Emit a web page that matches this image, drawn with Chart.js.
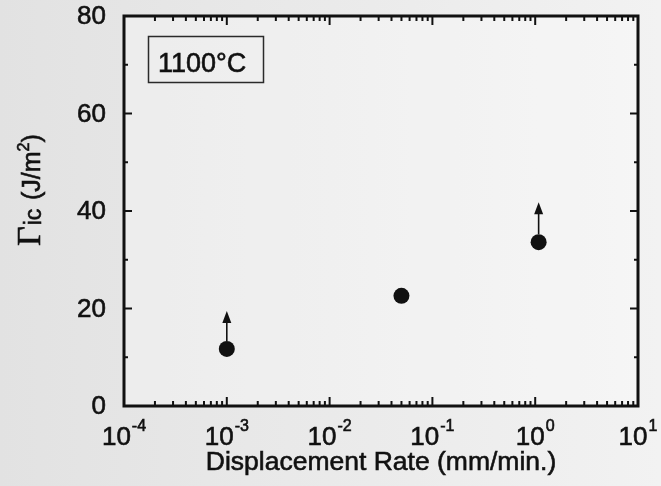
<!DOCTYPE html>
<html>
<head>
<meta charset="utf-8">
<script src="https://cdn.jsdelivr.net/npm/chart.js@4.4.1/dist/chart.umd.min.js"></script>
<style>
  html, body { margin: 0; padding: 0; background: #e8e8e8; }
  #wrap { width: 661px; height: 486px; }
</style>
</head>
<body>
<div id="wrap"><canvas id="chart" width="661" height="486"></canvas></div>
<script>
// values
const rates = [0.001, 0.05, 1.08];        // displacement rate, mm/min
const gammaIc = [11.7, 22.6, 33.6];       // J/m^2
const arrowTips = [19.5, null, 41.8];     // lower-bound arrows (J/m^2), null = no arrow
const xDecades = [-4, -3, -2, -1, 0, 1];
const yMajorTicks = [0, 20, 40, 60, 80];
const yMinorTicks = [10, 30, 50, 70];
const tempLabel = '1100°C';
const xTitle = 'Displacement Rate (mm/min.)';

const SANS = '"Liberation Sans", Arial, Helvetica, sans-serif';
const SERIF = '"Liberation Serif", "Times New Roman", serif';
const INK = '#111111';
const MARKER_R = 8;

// scanned print looks a bit heavier than plain canvas text
function inkText(ctx, str, x, y) {
  ctx.fillText(str, x, y);
  ctx.lineWidth = 0.6;
  ctx.strokeText(str, x, y);
}

const figurePlugin = {
  id: 'figure',
  beforeDraw(chart) {
    const { ctx, width, height, chartArea: a } = chart;
    ctx.save();
    const g = ctx.createLinearGradient(0, 0, width, 0);
    g.addColorStop(0, '#e2e2e2');
    g.addColorStop(1, '#f2f2f2');
    ctx.fillStyle = g;
    ctx.fillRect(0, 0, width, height);
    ctx.fillStyle = 'rgba(255,255,255,0.3)';
    ctx.fillRect(a.left, a.top, a.right - a.left, a.bottom - a.top);
    ctx.restore();
  },

  afterDatasetsDraw(chart) {
    // arrows showing the values are lower bounds
    const { ctx, scales: { x, y } } = chart;
    ctx.save();
    ctx.strokeStyle = INK;
    ctx.fillStyle = INK;
    ctx.lineWidth = 1.6;
    arrowTips.forEach((tip, i) => {
      if (tip === null) return;
      const px = x.getPixelForValue(rates[i]);
      const start = y.getPixelForValue(gammaIc[i]) - MARKER_R;
      const end = y.getPixelForValue(tip);
      const head = 12;
      ctx.beginPath();
      ctx.moveTo(px, start);
      ctx.lineTo(px, end + head - 1);
      ctx.stroke();
      ctx.beginPath();
      ctx.moveTo(px, end);
      ctx.lineTo(px - 4.5, end + head);
      ctx.lineTo(px + 4.5, end + head);
      ctx.closePath();
      ctx.fill();
    });
    ctx.restore();
  },

  afterDraw(chart) {
    const { ctx, chartArea: a, scales: { x, y } } = chart;
    ctx.save();
    ctx.strokeStyle = INK;
    ctx.fillStyle = INK;

    // frame
    ctx.lineWidth = 3;
    ctx.strokeRect(a.left, a.top, a.right - a.left, a.bottom - a.top);

    // inward ticks
    ctx.lineWidth = 2;
    const tick = (x0, y0, x1, y1) => {
      ctx.beginPath();
      ctx.moveTo(x0, y0);
      ctx.lineTo(x1, y1);
      ctx.stroke();
    };
    xDecades.forEach(d => {
      const px = x.getPixelForValue(Math.pow(10, d));
      tick(px, a.bottom, px, a.bottom - 9);
      tick(px, a.top, px, a.top + 9);
      if (d === xDecades[xDecades.length - 1]) return;
      for (let k = 2; k <= 9; k++) {
        const mx = x.getPixelForValue(k * Math.pow(10, d));
        tick(mx, a.bottom, mx, a.bottom - 5);
        tick(mx, a.top, mx, a.top + 5);
      }
    });
    yMajorTicks.forEach(v => {
      const py = y.getPixelForValue(v);
      tick(a.left, py, a.left + 8, py);
      tick(a.right, py, a.right - 8, py);
    });
    yMinorTicks.forEach(v => {
      const py = y.getPixelForValue(v);
      tick(a.left, py, a.left + 4, py);
      tick(a.right, py, a.right - 4, py);
    });

    // x tick labels: 10 with superscript exponent
    ctx.textBaseline = 'alphabetic';
    ctx.textAlign = 'left';
    xDecades.forEach(d => {
      const px = x.getPixelForValue(Math.pow(10, d));
      const exp = String(d);
      ctx.font = '26px ' + SANS;
      const wBase = ctx.measureText('10').width;
      ctx.font = '16px ' + SANS;
      const wExp = ctx.measureText(exp).width;
      const left = px - (wBase + wExp + 1) / 2;
      ctx.font = '26px ' + SANS;
      inkText(ctx, '10', left, 445);
      ctx.font = '16px ' + SANS;
      inkText(ctx, exp, left + wBase + 1, 431);
    });

    // y tick labels
    ctx.font = '26px ' + SANS;
    ctx.textAlign = 'right';
    ctx.textBaseline = 'middle';
    yMajorTicks.forEach(v => {
      inkText(ctx, String(v), a.left - 18, y.getPixelForValue(v) + 1);
    });

    // x title
    ctx.font = '26.5px ' + SANS;
    ctx.textAlign = 'center';
    ctx.textBaseline = 'alphabetic';
    inkText(ctx, xTitle, (a.left + a.right) / 2, 470);

    // y title: Γic (J/m²), rotated
    ctx.save();
    ctx.translate(40, 246);
    ctx.rotate(-Math.PI / 2);
    ctx.textAlign = 'left';
    ctx.font = '34px ' + SERIF;
    inkText(ctx, 'Γ', 0, 0);
    const wG = ctx.measureText('Γ').width;
    ctx.font = '23px ' + SANS;
    inkText(ctx, 'ic', wG + 1, 1);
    let off = 46;
    ctx.font = '25px ' + SANS;
    inkText(ctx, '(J/m', off, 0);
    off += ctx.measureText('(J/m').width;
    ctx.font = '16px ' + SANS;
    inkText(ctx, '2', off, -11);
    off += ctx.measureText('2').width;
    ctx.font = '25px ' + SANS;
    inkText(ctx, ')', off, 0);
    ctx.restore();

    // temperature box
    ctx.lineWidth = 1.5;
    ctx.strokeStyle = '#2a2a2a';
    ctx.strokeRect(148.5, 36.5, 115, 46);
    ctx.strokeStyle = INK;
    ctx.font = '27px ' + SANS;
    ctx.textAlign = 'left';
    inkText(ctx, tempLabel, 158, 72);

    ctx.restore();
  }
};

new Chart(document.getElementById('chart'), {
  type: 'scatter',
  data: {
    datasets: [{
      data: rates.map((r, i) => ({ x: r, y: gammaIc[i] })),
      pointRadius: MARKER_R,
      pointHoverRadius: MARKER_R,
      backgroundColor: INK,
      borderWidth: 0
    }]
  },
  options: {
    responsive: false,
    animation: false,
    layout: { padding: { left: 124, top: 16, right: 23, bottom: 80 } },
    plugins: { legend: { display: false }, tooltip: { enabled: false } },
    scales: {
      x: { type: 'logarithmic', min: 1e-4, max: 10, display: false },
      y: { type: 'linear', min: 0, max: 80, display: false }
    }
  },
  plugins: [figurePlugin]
});
</script>
</body>
</html>
